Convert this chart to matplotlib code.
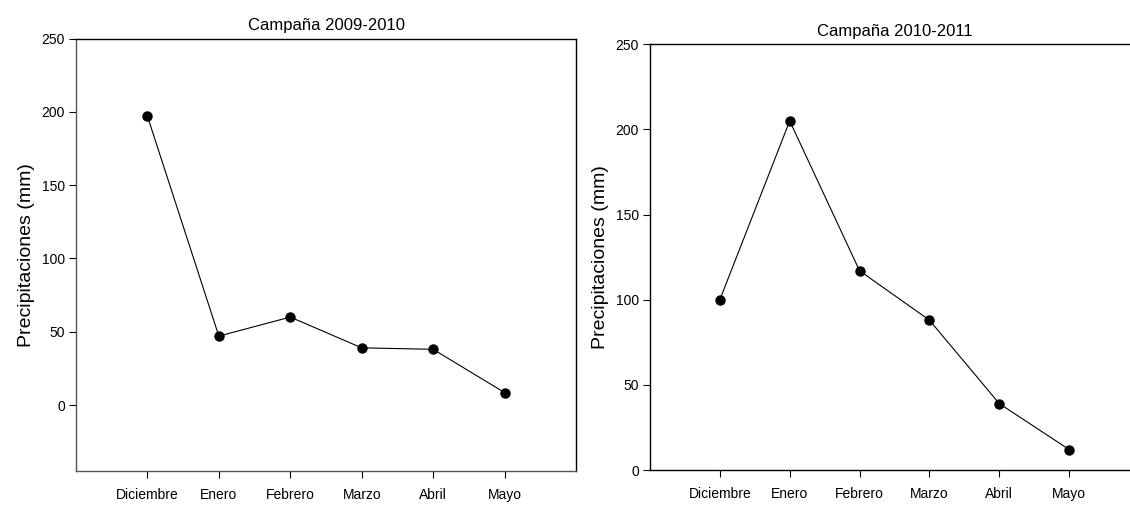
import matplotlib.pyplot as plt

plt.rcParams['font.family'] = ['Liberation Sans', 'DejaVu Sans']

meses = ['Diciembre', 'Enero', 'Febrero', 'Marzo', 'Abril', 'Mayo']
lluvia_2009_2010 = [197, 47, 60, 39, 38, 8.5]
lluvia_2010_2011 = [100, 205, 117, 88, 39, 12]
titulos = ['Campaña 2009-2010', 'Campaña 2010-2011']
yticks = [0, 50, 100, 150, 200, 250]

fig = plt.figure(figsize=(11.3, 5.05), dpi=100)
W, H = 1130, 505
# left axes spans 76..576 px, right one runs past the figure edge
ax1 = fig.add_axes([76 / W, (H - 471) / H, 500 / W, (471 - 38.5) / H])
ax2 = fig.add_axes([650 / W, (H - 470) / H, 489 / W, (470 - 44.3) / H])


def campaign(ax, valores, titulo, ylim, spine_gray):
    x = range(len(meses))
    ax.plot(x, valores, color='black', lw=0.8, marker='o', ms=6.5,
            mfc='black', mec='black')
    ax.set_xlim(-1, 6)
    ax.set_ylim(*ylim)
    ax.set_xticks(list(x))
    ax.set_xticklabels(meses)
    ax.set_yticks(yticks)
    ax.tick_params(axis='both', labelsize=10, length=5, width=0.8,
                   direction='out')
    ax.tick_params(axis='x', pad=7)
    ax.tick_params(axis='y', pad=3)
    ax.set_ylabel('Precipitaciones (mm)', fontsize=14, labelpad=5)
    ax.set_title(titulo, fontsize=12, pad=6)
    for s in ax.spines.values():
        s.set_linewidth(1.0)
        s.set_color('black')
    if spine_gray:
        ax.spines['left'].set_color('#555555')
        ax.spines['bottom'].set_color('#555555')


campaign(ax1, lluvia_2009_2010, titulos[0], (-45, 250), True)
campaign(ax2, lluvia_2010_2011, titulos[1], (0, 250), False)

fig.savefig('out.png', dpi=100)
